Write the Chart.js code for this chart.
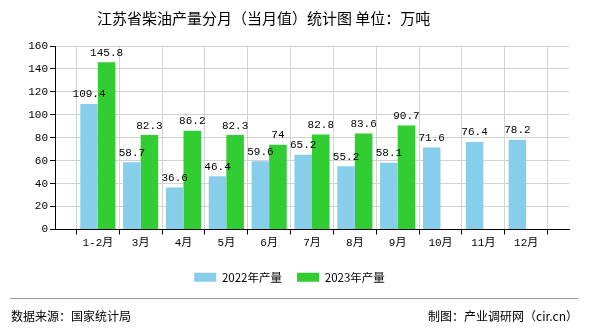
<!DOCTYPE html>
<html><head><meta charset="utf-8">
<script src="https://cdn.jsdelivr.net/npm/chart.js@4"></script>
<style>
html,body{margin:0;padding:0;background:#fff;}
#wrap{position:relative;width:590px;height:330px;overflow:hidden;background:#fff;}
canvas{position:absolute;left:0;top:0;}
.t{position:absolute;font-family:"Noto Sans CJK SC";color:#000;white-space:nowrap;line-height:1;}
</style></head><body>
<div id="wrap">
<canvas id="c" width="590" height="330"></canvas>
<div class="t" style="left:97px;top:10px;font-size:15px;">江苏省柴油产量分月（当月值）统计图 单位：万吨</div>
<div style="position:absolute;left:10px;top:298px;width:568px;height:1px;background:#999"></div>
<div class="t" style="left:11px;top:310px;font-size:12px;">数据来源：国家统计局</div>
<div class="t" style="right:12px;top:310px;font-size:12px;">制图：产业调研网（cir.cn）</div>
</div>
<script>
const months = ['1-2月','3月','4月','5月','6月','7月','8月','9月','10月','11月','12月'];
const output2022 = [109.4, 58.7, 36.6, 46.4, 59.6, 65.2, 55.2, 58.1, 71.6, 76.4, 78.2];
const output2023 = [145.8, 82.3, 86.2, 82.3, 74, 82.8, 83.6, 90.7, null, null, null];
const seriesNames = ['2022年产量', '2023年产量'];
const yTicks = [0, 20, 40, 60, 80, 100, 120, 140, 160];

const pad = arr => [null, ...arr, null];
const labels = ['', ...months, ''];
const tickFont = {family: '"Liberation Mono", "Noto Sans CJK SC"', size: 11};

const valueLabels = {
  id: 'valueLabels',
  afterDatasetsDraw(chart) {
    const ctx = chart.ctx;
    ctx.save();
    ctx.font = '11px "Liberation Mono", monospace';
    ctx.fillStyle = '#000';
    ctx.textAlign = 'center';
    ctx.textBaseline = 'bottom';
    chart.data.datasets.forEach((ds, di) => {
      const meta = chart.getDatasetMeta(di);
      meta.data.forEach((el, i) => {
        const v = ds.data[i];
        if (v === null || v === undefined) return;
        ctx.fillText(String(v), el.x, el.y - 4);
      });
    });
    ctx.restore();
  }
};

new Chart(document.getElementById('c'), {
  type: 'bar',
  data: {
    labels: labels,
    datasets: [
      {label: seriesNames[0], data: pad(output2022), backgroundColor: '#87CEEB', borderWidth: 0},
      {label: seriesNames[1], data: pad(output2023), backgroundColor: '#32CD32', borderWidth: 0}
    ]
  },
  options: {
    responsive: false,
    animation: false,
    categoryPercentage: 0.82,
    barPercentage: 1,
    layout: {padding: {left: 10, right: 21, top: 46, bottom: 37}},
    plugins: {
      title: {display: false},
      tooltip: {enabled: false},
      legend: {
        position: 'bottom',
        labels: {boxWidth: 22, boxHeight: 9, padding: 15, color: '#000',
          font: {family: '"Noto Sans CJK SC"', size: 11.5}}
      }
    },
    scales: {
      x: {
        offset: false,
        grid: {color: '#d3d3d3', tickColor: '#000', tickLength: 5},
        border: {color: '#000'},
        ticks: {color: '#000', font: tickFont, maxRotation: 0, autoSkip: false, padding: 2},
        afterFit: s => { s.height = 27; }
      },
      y: {
        min: yTicks[0], max: yTicks[yTicks.length - 1],
        afterBuildTicks: s => { s.ticks = yTicks.map(v => ({value: v})); },
        grid: {color: '#d3d3d3', tickColor: '#000', tickLength: 5},
        border: {color: '#000'},
        ticks: {color: '#000', font: tickFont, padding: 2},
        afterFit: s => { s.width = 45; }
      }
    }
  },
  plugins: [valueLabels]
});
</script>
</body></html>
